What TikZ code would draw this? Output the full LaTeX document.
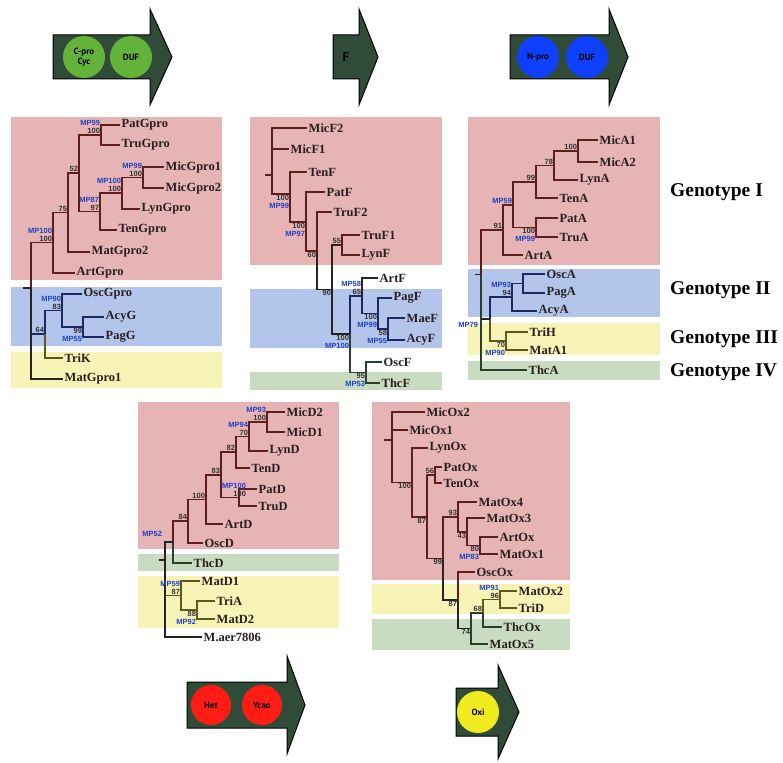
\documentclass[tikz,border=0pt]{standalone}
\usepackage{fontspec}
\setmainfont{Liberation Serif}
\newfontfamily\labelsans{Liberation Sans}
\newfontfamily\domainsans{PT Sans}
\usetikzlibrary{calc}
\definecolor{pinkbg}{RGB}{230,180,180}
\definecolor{bluebg}{RGB}{180,197,236}
\definecolor{yellowbg}{RGB}{248,244,184}
\definecolor{greenbg}{RGB}{201,220,193}
\definecolor{pinkbr}{RGB}{94,30,30}
\definecolor{bluebr}{RGB}{30,40,96}
\definecolor{yellowbr}{RGB}{92,88,30}
\definecolor{greenbr}{RGB}{40,64,44}
\definecolor{rootbr}{RGB}{40,34,34}
\definecolor{mpblue}{RGB}{32,64,200}
\definecolor{bsgray}{RGB}{50,50,50}
\definecolor{leaftext}{RGB}{40,30,30}
\definecolor{genefill}{RGB}{48,76,56}
\definecolor{domgreen}{RGB}{100,178,58}
\definecolor{domblue}{RGB}{16,64,255}
\definecolor{domred}{RGB}{255,28,20}
\definecolor{domyellow}{RGB}{240,234,30}
\newcommand{\mpl}[1]{\textcolor{mpblue}{#1}}
\tikzset{
    leaf/.style={anchor=west, inner sep=1.5pt, text=leaftext, font=\fontsize{12.5}{13}\selectfont\bfseries},
    bsup/.style={anchor=south east, inner sep=0.8pt, align=right, text=bsgray, font={\labelsans\fontsize{7.5}{8}\selectfont\bfseries}},
    bsdown/.style={bsup, anchor=north east},
    br/.style={line width=1.2pt},
    pbr/.style={br, draw=pinkbr},
    bbr/.style={br, draw=bluebr},
    ybr/.style={br, draw=yellowbr},
    gbr/.style={br, draw=greenbr},
    rbr/.style={br, draw=rootbr},
    gene/.style={draw=black, line width=1pt, fill=genefill, line join=miter},
    dom/.style={circle, minimum size=42pt, inner sep=0pt, align=center, text=black, font={\domainsans\fontsize{9}{9.5}\selectfont\bfseries}},
    geno/.style={anchor=west, inner sep=0pt, text=black, font=\fontsize{19.5}{20}\selectfont\bfseries}
}
\begin{document}
\begin{tikzpicture}[x=1pt, y=-1pt]
    \useasboundingbox (0,0) rectangle (783,762);

    % gene arrows, top row
    \draw[gene] (53,35) -- (150,35) -- (150,9) -- (172,57) -- (150,105) -- (150,79) -- (53,79) -- cycle;
    \node[dom, fill=domgreen] (cpro) at (84,57) {C-pro\\Cyc};
    \node[dom, fill=domgreen] (dufc) at (131,57) {DUF};
    \draw[gene] (333,35) -- (359,35) -- (359,9) -- (378,57) -- (359,105) -- (359,79) -- (333,79) -- cycle;
    \node[font={\domainsans\fontsize{13}{13}\selectfont\bfseries}] (fdom) at (346,57) {F};
    \draw[gene] (510,35) -- (609,35) -- (609,9) -- (628,57) -- (609,105) -- (609,79) -- (510,79) -- cycle;
    \node[dom, fill=domblue] (npro) at (538,57) {N-pro};
    \node[dom, fill=domblue] (dufn) at (587,57) {DUF};

    % panel 1
    \fill[pinkbg] (11,117) rectangle (222,280);
    \fill[bluebg] (11,287) rectangle (222,346);
    \fill[yellowbg] (11,352) rectangle (222,388);
    \node[leaf] (patgpro) at (120,125) {PatGpro};
    \node[leaf] (trugpro) at (120,145) {TruGpro};
    \node[leaf] (micgpro1) at (164,167) {MicGpro1};
    \node[leaf] (micgpro2) at (164,188) {MicGpro2};
    \node[leaf] (lyngpro) at (140,209) {LynGpro};
    \node[leaf] (tengpro) at (117,230) {TenGpro};
    \node[leaf] (matgpro2) at (90,252) {MatGpro2};
    \node[leaf] (artgpro) at (75,273) {ArtGpro};
    \node[leaf] (oscgpro) at (82,294) {OscGpro};
    \node[leaf] (acyg) at (104,317) {AcyG};
    \node[leaf] (pagg) at (104,337) {PagG};
    \node[leaf] (trik) at (63,358) {TriK};
    \node[leaf] (matgpro1) at (63,379) {MatGpro1};
    \coordinate (ga) at (101,135);
    \coordinate (gb) at (143,177.5);
    \coordinate (gc) at (122,193);
    \coordinate (gd) at (100,211.5);
    \coordinate (ge) at (79,173);
    \coordinate (gf) at (68,212.5);
    \coordinate (gg) at (53,242.5);
    \coordinate (gh) at (83,327);
    \coordinate (gi) at (62,310.5);
    \coordinate (gj) at (45,334);
    \coordinate (gr) at (31,288);
    \coordinate (grs) at (23,288);
    \draw[pbr] (ga) |- (patgpro.west) (ga) |- (trugpro.west) (gb) |- (micgpro1.west) (gb) |- (micgpro2.west)
        (gc) |- (gb) (gc) |- (lyngpro.west) (gd) |- (gc) (gd) |- (tengpro.west) (ge) |- (ga) (ge) |- (gd)
        (gf) |- (ge) (gf) |- (matgpro2.west) (gg) |- (gf) (gg) |- (artgpro.west) (gr) |- (gg);
    \draw[bbr] (gh) |- (acyg.west) (gh) |- (pagg.west) (gi) |- (oscgpro.west) (gi) |- (gh) (gj) |- (gi) (gr) |- (gj);
    \draw[ybr] (gj) |- (trik.west);
    \draw[rbr] (gr) |- (matgpro1.west) (grs) -- (gr);
    \node[bsup] (lga) at (ga) {\mpl{MP99}\\100};
    \node[bsup] (lgb) at (gb) {\mpl{MP99}\\100};
    \node[bsup] (lgc) at (gc) {\mpl{MP100}\\100};
    \node[bsup] (lgd) at (gd) {\mpl{MP87}\\97};
    \node[bsup] (lge) at (ge) {52};
    \node[bsup] (lgf) at (gf) {75};
    \node[bsup] (lgg) at (gg) {\mpl{MP100}\\100};
    \node[bsup] (lgi) at (gi) {\mpl{MP90}\\83};
    \node[bsdown] (lgh) at (gh) {99\\\mpl{MP55}};
    \node[bsup] (lgj) at (gj) {64};

    % panel 2
    \fill[pinkbg] (250,117) rectangle (442,265);
    \fill[bluebg] (250,289) rectangle (442,348);
    \fill[greenbg] (250,372) rectangle (442,390);
    \node[leaf] (micf2) at (307,128) {MicF2};
    \node[leaf] (micf1) at (289,149) {MicF1};
    \node[leaf] (tenf) at (307,172) {TenF};
    \node[leaf] (patf) at (325,192) {PatF};
    \node[leaf] (truf2) at (332,212) {TruF2};
    \node[leaf] (truf1) at (360,235) {TruF1};
    \node[leaf] (lynf) at (360,255) {LynF};
    \node[leaf] (artf) at (378,278) {ArtF};
    \node[leaf] (pagf) at (392,298) {PagF};
    \node[leaf] (maef) at (405,318) {MaeF};
    \node[leaf] (acyf) at (405,340) {AcyF};
    \node[leaf] (oscf) at (382,362) {OscF};
    \node[leaf] (thcf) at (380,383) {ThcF};
    \coordinate (fr) at (272,175);
    \coordinate (frs) at (265,175);
    \coordinate (fb) at (290,194);
    \coordinate (fc) at (306,222);
    \coordinate (fd) at (317,251);
    \coordinate (fe) at (332,289.5);
    \coordinate (fg) at (342,245);
    \coordinate (fh) at (350,334);
    \coordinate (fi) at (362,296);
    \coordinate (fk) at (378,313.5);
    \coordinate (fl) at (388,329);
    \coordinate (fj) at (366,372.5);
    \draw[pbr] (fr) |- (micf2.west) (fr) |- (micf1.west) (fr) |- (fb) (frs) -- (fr) (fb) |- (tenf.west) (fb) |- (fc)
        (fc) |- (patf.west) (fc) |- (fd) (fd) |- (truf2.west) (fg) |- (truf1.west) (fg) |- (lynf.west);
    \draw[rbr] (fd) |- (fe) (fe) |- (fg) (fe) |- (fh) (fi) |- (artf.west);
    \draw[bbr] (fh) |- (fi) (fi) |- (fk) (fk) |- (pagf.west) (fk) |- (fl) (fl) |- (maef.west) (fl) |- (acyf.west);
    \draw[gbr] (fh) |- (fj) (fj) |- (oscf.west) (fj) |- (thcf.west);
    \node[bsdown] (lfb) at (fb) {100\\\mpl{MP99}};
    \node[bsdown] (lfc) at (fc) {100\\\mpl{MP97}};
    \node[bsdown] (lfd) at (fd) {60};
    \node[bsup] (lfg) at (fg) {55};
    \node[bsdown] (lfe) at (fe) {90};
    \node[bsdown] (lfh) at (fh) {100\\\mpl{MP100}};
    \node[bsup] (lfi) at (fi) {\mpl{MP58}\\65};
    \node[bsdown] (lfk) at (fk) {100\\\mpl{MP99}};
    \node[bsdown] (lfl) at (fl) {58\\\mpl{MP55}};
    \node[bsdown] (lfj) at (fj) {95\\\mpl{MP53}};

    % panel 3
    \fill[pinkbg] (468,117) rectangle (660,265);
    \fill[bluebg] (468,269) rectangle (660,317);
    \fill[yellowbg] (468,323) rectangle (660,355);
    \fill[greenbg] (468,361) rectangle (660,380);
    \node[leaf] (mica1) at (598,140) {MicA1};
    \node[leaf] (mica2) at (598,162) {MicA2};
    \node[leaf] (lyna) at (578,180) {LynA};
    \node[leaf] (tena) at (558,198) {TenA};
    \node[leaf] (pata) at (558,218) {PatA};
    \node[leaf] (trua) at (558,237) {TruA};
    \node[leaf] (arta) at (523,255) {ArtA};
    \node[leaf] (osca) at (545,274) {OscA};
    \node[leaf] (paga) at (545,293) {PagA};
    \node[leaf] (acya) at (537,311) {AcyA};
    \node[leaf] (trih) at (528,332) {TriH};
    \node[leaf] (mata1) at (528,350) {MatA1};
    \node[leaf] (thca) at (527,370) {ThcA};
    \coordinate (aa) at (578,151);
    \coordinate (ab) at (554,165.5);
    \coordinate (ac) at (536,182);
    \coordinate (ad) at (536,227.5);
    \coordinate (ae) at (513,205);
    \coordinate (af) at (503,230);
    \coordinate (ag) at (523,283.5);
    \coordinate (ah) at (512,297);
    \coordinate (ai) at (506,341);
    \coordinate (aj) at (490,319);
    \coordinate (ar) at (481,274.5);
    \coordinate (ars) at (475,274.5);
    \draw[pbr] (aa) |- (mica1.west) (aa) |- (mica2.west) (ab) |- (aa) (ab) |- (lyna.west) (ac) |- (ab) (ac) |- (tena.west)
        (ad) |- (pata.west) (ad) |- (trua.west) (ae) |- (ac) (ae) |- (ad) (af) |- (ae) (af) |- (arta.west) (ar) |- (af);
    \draw[bbr] (ag) |- (osca.west) (ag) |- (paga.west) (ah) |- (ag) (ah) |- (acya.west) (aj) |- (ah);
    \draw[ybr] (ai) |- (trih.west) (ai) |- (mata1.west) (aj) |- (ai);
    \draw[rbr] (ar) |- (aj) (ars) -- (ar);
    \draw[gbr] (ar) |- (thca.west);
    \node[bsup] (laa) at (aa) {100};
    \node[bsup] (lab) at (ab) {78};
    \node[bsup] (lac) at (ac) {99};
    \node[bsdown] (lad) at (ad) {100\\\mpl{MP99}};
    \node[bsup] (lae) at (ae) {\mpl{MP59}};
    \node[bsup] (laf) at (af) {91};
    \node[bsup] (lah) at (ah) {\mpl{MP93}\\94};
    \node[bsdown] (lai) at (ai) {70\\\mpl{MP90}};
    \node[bsdown] (laj) at (479,321) {\mpl{MP79}};

    % genotype column
    \node[geno] (geno1) at (670,192) {Genotype I};
    \node[geno] (geno2) at (670,290) {Genotype II};
    \node[geno] (geno3) at (670,339) {Genotype III};
    \node[geno] (geno4) at (670,372) {Genotype IV};

    % panel 4
    \fill[pinkbg] (138,402) rectangle (339,549);
    \fill[greenbg] (138,554) rectangle (339,571);
    \fill[yellowbg] (138,576) rectangle (339,628);
    \node[leaf] (micd2) at (285,412) {MicD2};
    \node[leaf] (micd1) at (285,432) {MicD1};
    \node[leaf] (lynd) at (268,451) {LynD};
    \node[leaf] (tend) at (250,468) {TenD};
    \node[leaf] (patd) at (257,489) {PatD};
    \node[leaf] (trud) at (257,506) {TruD};
    \node[leaf] (artd) at (223,524) {ArtD};
    \node[leaf] (oscd) at (203,543) {OscD};
    \node[leaf] (thcd) at (192,563) {ThcD};
    \node[leaf] (matd1) at (200,581) {MatD1};
    \node[leaf] (tria) at (215,601) {TriA};
    \node[leaf] (matd2) at (215,619) {MatD2};
    \node[leaf] (maer) at (202,637) {M.aer7806};
    \coordinate (da) at (267,422);
    \coordinate (db) at (249,436.5);
    \coordinate (dc) at (236,452);
    \coordinate (dd) at (239,497.5);
    \coordinate (de) at (221,475);
    \coordinate (df) at (206,499.5);
    \coordinate (dg) at (188,521);
    \coordinate (dh) at (173,542);
    \coordinate (di) at (197,610);
    \coordinate (dj) at (181,595.5);
    \coordinate (dr) at (165,560);
    \coordinate (drs) at (159,560);
    \draw[pbr] (da) |- (micd2.west) (da) |- (micd1.west) (db) |- (da) (db) |- (lynd.west) (dc) |- (db) (dc) |- (tend.west)
        (dd) |- (patd.west) (dd) |- (trud.west) (de) |- (dc) (de) |- (dd) (df) |- (de) (df) |- (artd.west)
        (dg) |- (df) (dg) |- (oscd.west) (dh) |- (dg);
    \draw[gbr] (dh) |- (thcd.west);
    \draw[ybr] (di) |- (tria.west) (di) |- (matd2.west) (dj) |- (matd1.west) (dj) |- (di) (dr) |- (dj);
    \draw[rbr] (dr) |- (dh) (dr) |- (maer.west) (drs) -- (dr);
    \node[bsup] (lda) at (da) {\mpl{MP93}\\100};
    \node[bsup] (ldb) at (db) {\mpl{MP94}\\70};
    \node[bsup] (ldc) at (dc) {82};
    \node[bsup] (ldd) at ($(dd)+(8,0)$) {\mpl{MP100}\\100};
    \node[bsup] (lde) at (de) {83};
    \node[bsup] (ldf) at (df) {100};
    \node[bsup] (ldg) at (dg) {84};
    \node[bsup] (ldh) at (163,538) {\mpl{MP52}};
    \node[bsup] (ldj) at (dj) {\mpl{MP59}\\87};
    \node[bsdown] (ldi) at (di) {88\\\mpl{MP92}};

    % panel 5
    \fill[pinkbg] (372,402) rectangle (570,580);
    \fill[yellowbg] (372,584) rectangle (570,614);
    \fill[greenbg] (372,619) rectangle (570,650);
    \node[leaf] (micox2) at (425,412) {MicOx2};
    \node[leaf] (micox1) at (408,430) {MicOx1};
    \node[leaf] (lynox) at (428,448) {LynOx};
    \node[leaf] (patox) at (442,467) {PatOx};
    \node[leaf] (tenox) at (442,483) {TenOx};
    \node[leaf] (matox4) at (477,502) {MatOx4};
    \node[leaf] (matox3) at (485,518) {MatOx3};
    \node[leaf] (artox) at (498,537) {ArtOx};
    \node[leaf] (matox1) at (498,554) {MatOx1};
    \node[leaf] (oscox) at (475,572) {OscOx};
    \node[leaf] (matox2) at (517,591) {MatOx2};
    \node[leaf] (trid) at (517,608) {TriD};
    \node[leaf] (thcox) at (502,627) {ThcOx};
    \node[leaf] (matox5) at (488,644) {MatOx5};
    \coordinate (oa) at (435,475);
    \coordinate (ob) at (480,545.5);
    \coordinate (oc) at (467,532);
    \coordinate (od) at (458,517);
    \coordinate (oe) at (500,599.5);
    \coordinate (of) at (483,613);
    \coordinate (og) at (471,628.5);
    \coordinate (oh) at (458,600);
    \coordinate (oi) at (443,558.5);
    \coordinate (oj) at (427,517);
    \coordinate (ok) at (412,482.5);
    \coordinate (or) at (392,440);
    \coordinate (ors) at (384,440);
    \draw[pbr] (or) |- (micox2.west) (or) |- (micox1.west) (or) |- (ok) (ors) -- (or) (ok) |- (lynox.west) (ok) |- (oj)
        (oj) |- (oa) (oj) |- (oi) (oa) |- (patox.west) (oa) |- (tenox.west) (oi) |- (od) (od) |- (matox4.west)
        (od) |- (oc) (oc) |- (matox3.west) (oc) |- (ob) (ob) |- (artox.west) (ob) |- (matox1.west) (oh) |- (oscox.west);
    \draw[rbr] (oi) |- (oh) (oh) |- (og);
    \draw[ybr] (of) |- (oe) (oe) |- (matox2.west) (oe) |- (trid.west);
    \draw[gbr] (og) |- (of) (of) |- (thcox.west) (og) |- (matox5.west);
    \node[bsup] (loa) at (oa) {56};
    \node[bsdown] (lob) at (ob) {80\\\mpl{MP83}};
    \node[bsdown] (loc) at (oc) {43};
    \node[bsup] (lod) at (od) {93};
    \node[bsup] (loe) at (oe) {\mpl{MP91}\\96};
    \node[bsup] (lof) at (of) {68};
    \node[bsdown] (log) at (og) {74};
    \node[bsdown] (loh) at (oh) {87};
    \node[bsdown] (loi) at (oi) {99};
    \node[bsdown] (loj) at (oj) {87};
    \node[bsdown] (lok) at (ok) {100};

    % gene arrows, bottom row
    \draw[gene] (187,682) -- (287,682) -- (287,656) -- (305,705) -- (287,754) -- (287,728) -- (187,728) -- cycle;
    \node[dom, fill=domred, minimum size=40pt] (het) at (211,705) {Het};
    \node[dom, fill=domred, minimum size=40pt] (ycao) at (262,705) {Ycao};
    \draw[gene] (456,688) -- (498,688) -- (498,665) -- (519,712) -- (498,759) -- (498,736) -- (456,736) -- cycle;
    \node[dom, fill=domyellow] (oxi) at (478,712) {Oxi};
\end{tikzpicture}
\end{document}
